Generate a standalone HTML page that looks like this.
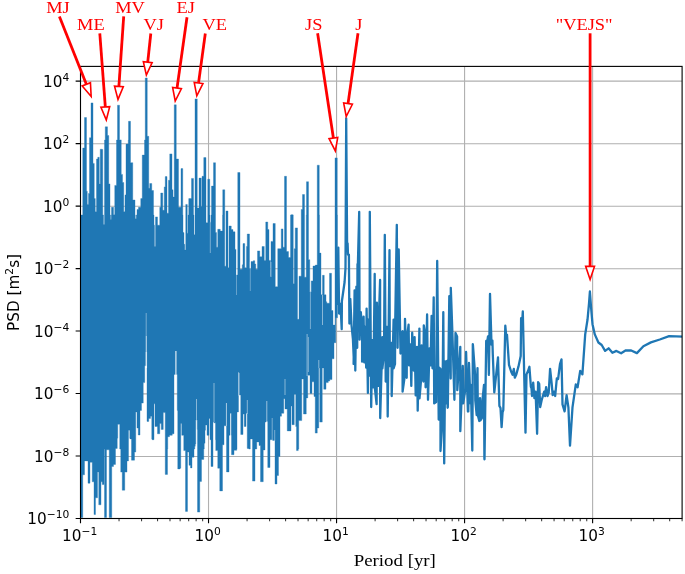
<!DOCTYPE html>
<html lang="en"><head><meta charset="utf-8"><title>PSD vs Period</title>
<style>html,body{margin:0;padding:0;background:#fff;overflow:hidden}svg{display:block}.tk{font-family:"DejaVu Sans","Liberation Sans",sans-serif;font-size:15.28px;fill:#000}.sup{font-size:10.7px}.an{font-family:"Liberation Serif","DejaVu Serif",serif;font-size:18.4px;fill:#ff0000;text-anchor:middle}.xl{font-family:"Liberation Serif","DejaVu Serif",serif;font-size:18.85px;fill:#000}</style></head><body>
<svg width="685" height="574" viewBox="0 0 685 574">
<rect width="685" height="574" fill="#fff"/>
<path d="M208.53 66.4V518.5M336.56 66.4V518.5M464.58 66.4V518.5M592.61 66.4V518.5M80.5 456.47H682.1M80.5 393.92H682.1M80.5 331.36H682.1M80.5 268.81H682.1M80.5 206.26H682.1M80.5 143.70H682.1M80.5 81.15H682.1" stroke="#b0b0b0" stroke-width="1.11" fill="none"/>
<clipPath id="c"><rect x="80.5" y="66.4" width="601.60" height="452.10"/></clipPath>
<g clip-path="url(#c)"><path d="M80.00 215.0V215.0H82.75V148.0H84.50V117.5H86.50V191.2H87.25V204.4H88.50V193.4H89.50V137.7H91.00V102.9H93.00V163.4H94.25V198.6H95.25V211.7H96.50V159.0H97.75V157.3H99.25V183.9H100.25V149.2H102.25V149.5H102.75V215.0H103.50V224.5H104.50V140.0H105.25V126.8H107.50V135.5H108.75V183.9H110.00V215.0H110.50V219.4H111.25V215.0H111.50V207.3H113.50V214.7H114.75V185.4H116.50V140.0H117.50V105.2H119.50V139.9H121.25V174.4H122.50V182.5H123.75V211.7H125.00V194.9H126.00V144.3H126.25V144.1H128.25V140.0H128.50V121.3H130.50V162.7H132.75V200.0H135.00V215.0H135.25V218.7H136.25V215.0H137.00V209.5H138.50V207.3H140.75V198.6H142.25V155.1H144.50V140.0H145.25V78.0H147.25V136.3H148.75V188.3H149.75V183.5H151.75V190.5H153.50V215.0H154.00V225.2H154.50V246.5H155.50V216.9H157.50V225.2H159.75V207.3H160.75V193.0H162.75V210.3H164.25V186.9H165.25V176.6H167.00V213.2H168.50V180.3H169.75V153.9H172.00V189.8H173.00V197.1H174.25V104.8H176.25V159.0H178.50V207.3H181.00V168.6H182.75V215.0H183.00V232.6H184.00V244.3H184.75V250.1H185.75V204.4H187.25V233.3H188.00V215.0H188.75V198.6H191.50V178.4H193.50V215.0H194.00V234.8H195.00V98.9H197.25V208.1H199.00V178.1H201.25V206.6H202.00V176.3H203.75V157.6H206.00V222.7H207.75V179.2H209.75V215.0H210.00V222.3H211.00V215.0H211.50V186.1H213.50V162.7H215.50V232.6H216.50V247.2H217.75V229.3H220.25V231.1H222.50V215.0H222.75V189.8H224.75V266.2H226.00V211.0H228.00V267.7H229.00V226.0H231.25V229.6H233.00V231.8H235.00V249.4H236.00V275.0H237.75V172.5H240.00V269.2H242.25V264.8H243.00V243.6H244.75V267.7H246.50V246.5H247.25V234.0H249.50V268.4H251.00V261.6H253.25V260.7H254.75V264.0H255.75V269.2H257.50V250.9H259.75V256.7H262.00V246.5H264.25V260.4H265.75V222.0H267.75V229.6H269.00V260.4H270.50V276.5H271.00V241.4H273.00V223.5H275.00V223.5H275.25V286.7H277.75V248.7H281.25V228.9H283.00V247.2H284.50V176.3H286.50V251.6H288.50V257.5H290.50V215.0H291.00V214.7H293.00V215.0H293.25V283.8H294.25V248.7H295.25V227.9H297.50V319.3H299.00V276.2H301.25V209.5H302.50V194.5H304.50V277.2H306.25V215.0H306.50V181.7H308.50V259.7H309.75V291.9H311.25V280.9H313.00V266.0H315.25V265.1H317.25V165.2H319.25V215.0H319.50V253.1H321.00V294.8H322.50V275.3H324.25V294.8H326.00V301.7H326.75V303.2H329.50V273.3H331.50V310.5H333.00V325.1H335.00V157.9H337.25V215.0H337.50V317.8H335.75V342.7H334.00V358.8H332.00V379.6H329.75V381.1H328.25V382.6H326.00V389.2H323.75V367.9H322.25V422.1H319.75V367.9H318.75V428.0H317.25V433.1H315.25V396.5H314.00V381.8H312.00V393.6H310.00V375.2H307.75V397.9H306.25V414.0H303.50V378.9H301.75V420.6H298.75V449.0H298.25V450.6H296.50V426.5H295.75V394.3H294.25V424.7H292.00V406.0H291.00V430.9H287.25V408.9H285.00V398.7H283.75V413.3H281.50V416.2H280.00V456.5H278.50V475.5H277.00V484.0H275.00V440.4H274.50V440.4H272.50V439.7H272.00V439.7H270.00V467.5H267.75V421.4H266.00V422.1H265.00V449.9H263.25V481.7H260.50V445.5H259.00V441.9H256.75V449.0H255.00V481.1H252.50V438.9H252.00V438.9H250.25V449.0H248.75V448.4H247.25V413.3H246.00V426.5H244.25V414.0H243.00V434.5H240.75V395.0H238.50V411.9H237.00V449.0H236.75V450.3H234.00V454.7H231.50V435.3H231.25V413.3H230.00V435.3H229.00V471.9H226.50V403.1H226.00V425.8H224.00V444.8H222.50V490.9H219.75V468.2H217.75V450.6H215.75V439.7H215.50V422.8H214.00V422.1H213.00V466.5H211.00V439.7H210.00V418.4H209.00V435.3H207.00V425.0H205.50V430.2H205.00V443.3H204.25V449.0H203.75V459.4H201.50V481.4H199.75V512.1H197.50V429.4H197.25V419.9H195.75V444.1H195.25V446.2H194.75V449.0H194.00V457.2H192.00V467.9H190.50V465.3H189.00V452.1H187.50V511.4H185.50V450.6H183.75V435.3H181.75V423.6H180.75V468.2H180.00V468.9H177.75V410.4H177.25V374.5H174.00V433.8H172.25V435.3H169.50V436.7H167.75V449.0H167.50V474.4H165.25V412.6H163.25V429.4H161.25V423.6H159.75V433.8H157.50V426.5H155.00V403.8H154.00V439.7H152.00V438.9H151.75V416.2H150.50V418.4H148.75V421.4H147.00V365.7H144.75V382.6H143.25V403.1H141.50V410.4H140.00V435.0H138.25V428.0H137.00V411.9H135.75V452.1H134.50V460.2H131.50V438.9H130.00V438.2H129.75V430.2H128.50V460.9H127.00V472.1H124.75V490.2H122.25V472.1H120.75V449.0H119.75V424.3H117.75V438.2H117.25V448.4H115.50V464.4H113.50V466.5H111.75V517.5H109.25V449.8H106.50V517.5H104.50V449.0H104.00V484.6H102.25V481.8H101.00V504.8H98.75V472.1H97.50V497.8H95.50V514.6H94.00V481.8H92.25V462.3H90.00V483.2H88.00V460.9H84.50V474.8H82.75V517.5H81.00V449.0H80.00Z" fill="#1f77b4" stroke="#1f77b4" stroke-width="0.35" stroke-linejoin="round"/></g>
<g clip-path="url(#c)"><path d="" fill="#1f77b4" stroke="#1f77b4" stroke-width="0.35" stroke-linejoin="round"/></g>
<g clip-path="url(#c)"><path d="M337.3 305.0L338.3 247.6L339.1 313.5L340.5 304.0L341.7 329.2L341.9 301.0L343.4 290.5L344.6 282.0L345.5 268.0L346.2 118.3L347.1 243.3L347.6 243.3L348.0 254.6L348.9 254.6L349.4 323.5L350.3 299.0L351.5 325.0L352.9 338.8L354.0 364.0L353.6 363.9L354.6 290.3L355.3 370.5L356.4 286.6L357.2 347.8L357.5 264.1L357.9 263.9L359.2 211.8L359.6 339.7L360.8 312.2L362.1 328.3L362.1 361.7L363.6 316.6L364.3 362.4L365.0 326.9L366.2 367.6L366.6 308.6L367.9 392.9L368.2 319.6L369.6 375.6L369.8 211.8L371.2 407.1L372.2 340.1L373.3 387.3L374.7 273.9L375.0 389.5L376.6 404.2L376.9 302.7L378.2 385.9L378.3 337.1L380.1 280.0L380.2 418.1L382.4 337.1L382.4 368.3L384.0 353.6L384.8 234.8L385.7 381.5L387.0 326.9L387.7 416.6L389.5 250.2L389.8 366.1L391.5 343.0L391.7 396.1L393.6 319.6L393.6 368.3L395.0 363.9L395.2 324.0L396.8 224.8L397.6 347.8L398.7 249.4L400.5 353.6L400.9 334.2L402.6 331.3L402.6 391.7L404.4 378.5L405.0 318.8L406.7 377.8L407.0 337.1L408.6 324.7L409.1 365.4L410.4 344.5L411.3 385.9L412.2 332.7L413.7 370.5L414.6 337.1L415.7 395.4L417.0 346.9L417.7 410.7L419.4 328.6L419.5 398.3L421.2 378.5L421.6 345.4L423.4 381.5L423.8 325.4L425.6 337.1L425.6 387.3L427.1 314.4L428.0 399.8L429.5 348.3L430.5 365.4L431.6 315.9L432.5 368.3L433.7 297.3L434.2 403.4L436.1 402.0L437.2 261.0L438.7 419.5L438.8 367.4L440.5 368.8L440.5 451.0L442.3 421.0L443.3 312.2L444.2 463.4L445.2 361.5L446.0 401.9L446.0 403.4L447.1 360.8L447.6 407.8L447.8 407.1L449.3 296.1L450.7 378.5L450.8 287.8L452.3 330.5L454.4 399.8L455.5 333.0L457.1 336.4L457.3 390.2L460.3 346.9L460.3 431.2L462.8 365.9L463.2 403.4L463.2 403.4L465.4 388.8L466.1 352.0L467.9 411.5L468.3 411.4L469.0 363.0L470.5 403.4L470.9 384.9L472.3 450.5L472.7 387.3L472.8 344.2L472.9 344.7L475.1 374.7L475.3 400.5L476.7 415.1L477.5 368.1L477.8 415.1L479.3 421.0L480.0 398.1L480.4 420.3L481.9 418.0L482.2 402.5L484.0 384.9L484.4 458.3L484.5 459.3L485.5 390.0L486.2 340.9L487.0 343.6L488.0 336.4L488.9 374.9L490.0 293.9L491.5 344.6L492.4 340.6L492.8 354.6L494.3 392.4L498.0 357.4L499.4 405.9L500.5 408.0L501.6 427.1L502.6 412.0L503.3 410.0L505.3 325.7L506.2 335.6L507.0 334.8L509.0 364.9L511.1 371.5L512.6 374.7L513.8 369.0L514.8 377.7L516.3 374.4L518.5 366.4L520.7 356.1L521.1 318.2L522.0 324.6L522.8 311.5L525.5 432.7L526.5 374.4L528.0 371.0L529.4 366.8L530.9 386.9L531.5 388.3L532.0 396.0L533.2 382.7L534.4 398.2L535.6 391.6L537.1 433.8L538.1 382.1L539.2 383.9L540.2 407.1L541.7 400.0L544.2 391.6L545.1 396.0L546.1 387.1L547.6 396.0L548.7 392.7L550.1 368.8L551.7 383.9L552.7 395.2L553.9 391.6L555.2 396.0L556.8 378.5L558.1 379.1L560.0 364.2L561.5 359.4L562.5 404.4L564.6 411.3L566.6 395.2L568.4 407.3L570.0 445.6L572.5 407.3L575.8 384.3L577.6 387.2L580.2 370.9L582.4 374.4L584.5 344.4L585.2 334.4L587.5 319.8L589.0 303.7L589.9 291.5L591.0 306.6L592.5 324.2L594.8 334.4L598.4 342.5L601.7 345.0L605.1 350.9L608.6 348.3L612.4 352.8L616.4 350.9L621.1 353.3L625.9 350.3L631.2 350.5L636.9 353.1L643.4 346.2L650.9 342.4L659.8 339.5L669.1 336.2L684.0 336.6" stroke="#1f77b4" stroke-width="2.3" fill="none" stroke-linejoin="round" stroke-linecap="butt"/></g>
<g clip-path="url(#c)" stroke="#fff" stroke-opacity="0.8" fill="none"><path d="M146.20 313.0V336.0" stroke-width="0.5"/><path d="M146.25 336.0V352.0" stroke-width="1.0"/><path d="M146.30 352.0V368.0" stroke-width="1.5"/><path d="M175.90 351.0V376.0" stroke-width="1.3"/><path d="M196.50 399.0V420.0" stroke-width="0.6"/><path d="M214.00 383.0V422.0" stroke-width="0.6"/><path d="M226.40 403.0V426.0" stroke-width="0.6"/><path d="M239.00 373.0V396.0" stroke-width="0.7"/><path d="M247.30 400.0V414.0" stroke-width="0.6"/><path d="M266.80 401.0V422.0" stroke-width="0.7"/><path d="M272.20 418.0V441.0" stroke-width="0.5"/><path d="M274.70 430.0V441.0" stroke-width="0.5"/><path d="M310.40 292.0V329.0" stroke-width="0.5"/><path d="M322.50 295.0V325.0" stroke-width="0.6"/><path d="M307.10 334.0V376.0" stroke-width="0.6"/><path d="M318.80 360.0V368.0" stroke-width="0.6"/><path d="M238.60 372.0V395.0" stroke-width="0.5"/><path d="M308.40 337.0V372.0" stroke-width="0.5"/><path d="M285.00 379.0V395.0" stroke-width="0.6"/><path d="M210.30 222.0V253.0" stroke-width="0.5"/><path d="M236.50 268.0V295.0" stroke-width="0.4"/><path d="M250.30 262.0V291.0" stroke-width="0.4"/><path d="M271.00 262.0V277.0" stroke-width="0.5"/></g>
<path d="M80.50 518.5v4.86M208.53 518.5v4.86M336.56 518.5v4.86M464.58 518.5v4.86M592.61 518.5v4.86M80.5 518.50h-4.86M80.5 456.02h-4.86M80.5 393.54h-4.86M80.5 331.06h-4.86M80.5 268.59h-4.86M80.5 206.11h-4.86M80.5 143.63h-4.86M80.5 81.15h-4.86" stroke="#000" stroke-width="1.11" fill="none"/>
<path d="M119.04 518.5v2.78M141.58 518.5v2.78M157.58 518.5v2.78M169.99 518.5v2.78M180.13 518.5v2.78M188.70 518.5v2.78M196.12 518.5v2.78M202.67 518.5v2.78M247.07 518.5v2.78M269.61 518.5v2.78M285.61 518.5v2.78M298.02 518.5v2.78M308.15 518.5v2.78M316.72 518.5v2.78M324.15 518.5v2.78M330.70 518.5v2.78M375.10 518.5v2.78M397.64 518.5v2.78M413.64 518.5v2.78M426.04 518.5v2.78M436.18 518.5v2.78M444.75 518.5v2.78M452.18 518.5v2.78M458.73 518.5v2.78M503.12 518.5v2.78M525.67 518.5v2.78M541.66 518.5v2.78M554.07 518.5v2.78M564.21 518.5v2.78M572.78 518.5v2.78M580.21 518.5v2.78M586.75 518.5v2.78M631.15 518.5v2.78M653.70 518.5v2.78M669.69 518.5v2.78M682.10 518.5v2.78" stroke="#000" stroke-width="0.83" fill="none"/>
<rect x="80.5" y="66.4" width="601.60" height="452.10" fill="none" stroke="#000" stroke-width="1.11"/>
<text class="tk" x="79.60" y="540.90" text-anchor="middle">10<tspan class="sup" dy="-5.9">−1</tspan></text>
<text class="tk" x="207.63" y="540.90" text-anchor="middle">10<tspan class="sup" dy="-5.9">0</tspan></text>
<text class="tk" x="335.66" y="540.90" text-anchor="middle">10<tspan class="sup" dy="-5.9">1</tspan></text>
<text class="tk" x="463.68" y="540.90" text-anchor="middle">10<tspan class="sup" dy="-5.9">2</tspan></text>
<text class="tk" x="591.71" y="540.90" text-anchor="middle">10<tspan class="sup" dy="-5.9">3</tspan></text>
<text class="tk" x="69.30" y="524.20" text-anchor="end">10<tspan class="sup" dy="-5.9">−10</tspan></text>
<text class="tk" x="69.30" y="461.72" text-anchor="end">10<tspan class="sup" dy="-5.9">−8</tspan></text>
<text class="tk" x="69.30" y="399.24" text-anchor="end">10<tspan class="sup" dy="-5.9">−6</tspan></text>
<text class="tk" x="69.30" y="336.76" text-anchor="end">10<tspan class="sup" dy="-5.9">−4</tspan></text>
<text class="tk" x="69.30" y="274.29" text-anchor="end">10<tspan class="sup" dy="-5.9">−2</tspan></text>
<text class="tk" x="69.30" y="211.81" text-anchor="end">10<tspan class="sup" dy="-5.9">0</tspan></text>
<text class="tk" x="69.30" y="149.33" text-anchor="end">10<tspan class="sup" dy="-5.9">2</tspan></text>
<text class="tk" x="69.30" y="86.85" text-anchor="end">10<tspan class="sup" dy="-5.9">4</tspan></text>
<text class="xl" transform="translate(394.80,566.0) scale(1,0.91)" text-anchor="middle">Period [yr]</text>
<text class="tk" transform="translate(18.5,292.45) rotate(-90)" text-anchor="middle">PSD [m<tspan class="sup" dy="-5.9">2</tspan><tspan dy="5.9">s]</tspan></text>
<path d="M59.40 16.40L86.35 84.32" stroke="#f00" stroke-width="2.78" fill="none"/>
<path d="M82.26 85.95L91.15 96.41L90.44 82.70Z" stroke="#f00" stroke-width="1.6" fill="#fff" stroke-linejoin="miter"/>
<text class="an" transform="translate(57.90,12.50) scale(1,0.91)">MJ</text>
<path d="M99.80 33.40L105.32 106.94" stroke="#f00" stroke-width="2.78" fill="none"/>
<path d="M100.93 107.27L106.29 119.90L109.70 106.61Z" stroke="#f00" stroke-width="1.6" fill="#fff" stroke-linejoin="miter"/>
<text class="an" transform="translate(90.90,29.80) scale(1,0.91)">ME</text>
<path d="M123.70 16.40L118.89 86.43" stroke="#f00" stroke-width="2.78" fill="none"/>
<path d="M114.50 86.13L118.00 99.40L123.28 86.74Z" stroke="#f00" stroke-width="1.6" fill="#fff" stroke-linejoin="miter"/>
<text class="an" transform="translate(130.00,12.50) scale(1,0.91)">MV</text>
<path d="M150.80 33.50L147.74 62.18" stroke="#f00" stroke-width="2.78" fill="none"/>
<path d="M143.36 61.71L146.36 75.11L152.11 62.65Z" stroke="#f00" stroke-width="1.6" fill="#fff" stroke-linejoin="miter"/>
<text class="an" transform="translate(153.70,29.80) scale(1,0.91)">VJ</text>
<path d="M187.00 17.20L177.02 88.14" stroke="#f00" stroke-width="2.78" fill="none"/>
<path d="M172.66 87.53L175.21 101.01L181.38 88.75Z" stroke="#f00" stroke-width="1.6" fill="#fff" stroke-linejoin="miter"/>
<text class="an" transform="translate(185.70,12.50) scale(1,0.91)">EJ</text>
<path d="M205.30 33.50L198.56 82.93" stroke="#f00" stroke-width="2.78" fill="none"/>
<path d="M194.20 82.34L196.80 95.81L202.92 83.53Z" stroke="#f00" stroke-width="1.6" fill="#fff" stroke-linejoin="miter"/>
<text class="an" transform="translate(214.70,29.80) scale(1,0.91)">VE</text>
<path d="M317.60 33.30L333.39 138.06" stroke="#f00" stroke-width="2.78" fill="none"/>
<path d="M329.04 138.72L335.33 150.92L337.74 137.41Z" stroke="#f00" stroke-width="1.6" fill="#fff" stroke-linejoin="miter"/>
<text class="an" transform="translate(313.70,29.80) scale(1,0.91)">JS</text>
<path d="M358.00 33.30L348.03 103.64" stroke="#f00" stroke-width="2.78" fill="none"/>
<path d="M343.68 103.03L346.21 116.51L352.39 104.26Z" stroke="#f00" stroke-width="1.6" fill="#fff" stroke-linejoin="miter"/>
<text class="an" transform="translate(358.75,29.80) scale(1,0.91)">J</text>
<path d="M590.10 33.30L590.10 266.40" stroke="#f00" stroke-width="2.78" fill="none"/>
<path d="M585.70 266.40L590.10 279.40L594.50 266.40Z" stroke="#f00" stroke-width="1.6" fill="#fff" stroke-linejoin="miter"/>
<text class="an" transform="translate(584.15,29.80) scale(1,0.91)">&quot;VEJS&quot;</text>
</svg></body></html>
